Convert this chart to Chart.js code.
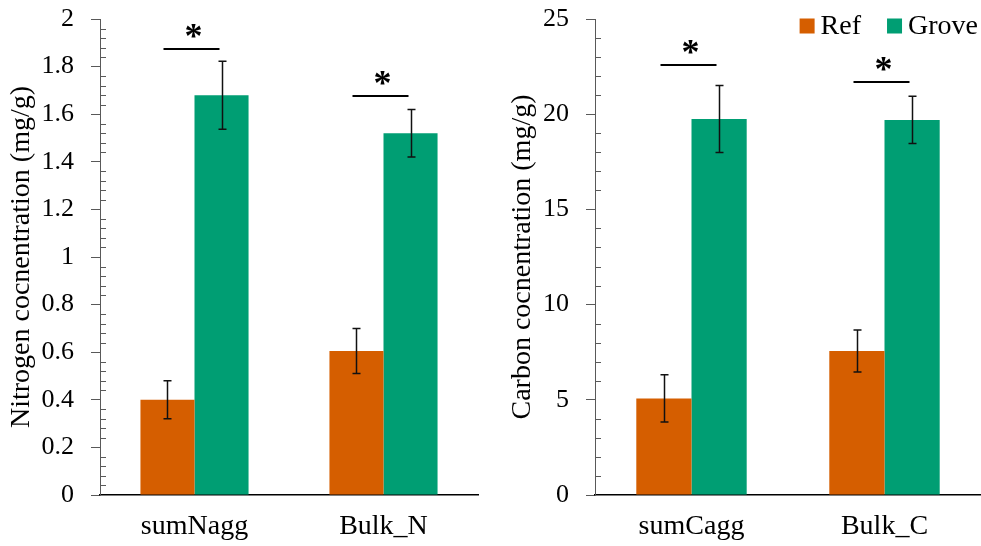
<!DOCTYPE html>
<html>
<head>
<meta charset="utf-8">
<script src="https://cdn.jsdelivr.net/npm/chart.js@4/dist/chart.umd.min.js"></script>
<style>
  html, body { margin: 0; padding: 0; background: #fff; }
  body { width: 981px; height: 546px; position: relative; overflow: hidden; }
  canvas { position: absolute; top: 0; }
  #nChart { left: 0; }
  #cChart { left: 501px; }
</style>
</head>
<body>
<canvas id="nChart" width="490" height="546"></canvas>
<canvas id="cChart" width="480" height="546"></canvas>
<script>
// Nitrogen panel
const nCategories = ['sumNagg', 'Bulk_N'];
const nRef = [0.40, 0.605];
const nRefErr = [0.08, 0.095];
const nGrove = [1.68, 1.52];
const nGroveErr = [0.143, 0.10];
const nSigLine = [1.874, 1.676];
const nTickLabels = ['0', '0.2', '0.4', '0.6', '0.8', '1', '1.2', '1.4', '1.6', '1.8', '2'];

// Carbon panel
const cCategories = ['sumCagg', 'Bulk_C'];
const cRef = [5.07, 7.56];
const cRefErr = [1.24, 1.1];
const cGrove = [19.75, 19.7];
const cGroveErr = [1.76, 1.24];
const cSigLine = [22.58, 21.69];
const cTickLabels = ['0', '5', '10', '15', '20', '25'];

const seriesNames = ['Ref', 'Grove'];
const refColor = '#D55E00';
const groveColor = '#009E73';
const axisGray = '#595959';
const serif = "'Liberation Serif', 'Times New Roman', serif";

Chart.defaults.font.family = serif;
Chart.defaults.color = '#000';

// minor ticks, error bars, significance marks and legend
const extrasPlugin = {
  id: 'extras',
  afterDatasetsDraw(chart, args, opts) {
    const ctx = chart.ctx;
    const y = chart.scales.y;
    const area = chart.chartArea;

    // minor ticks pointing into the plot
    const step = opts.step / 5;
    ctx.save();
    ctx.strokeStyle = axisGray;
    ctx.lineWidth = 1;
    for (let i = 1; i * step < y.max - 1e-9; i++) {
      if (i % 5 === 0) continue;
      const py = Math.round(y.getPixelForValue(i * step)) + 0.5;
      ctx.beginPath();
      ctx.moveTo(area.left, py);
      ctx.lineTo(area.left + 6, py);
      ctx.stroke();
    }
    ctx.restore();

    // error bars
    ctx.save();
    ctx.strokeStyle = '#111';
    ctx.lineWidth = 1.5;
    chart.data.datasets.forEach((ds, di) => {
      const meta = chart.getDatasetMeta(di);
      meta.data.forEach((bar, j) => {
        const v = ds.data[j], e = ds.err[j];
        const top = y.getPixelForValue(v + e);
        const bot = y.getPixelForValue(v - e);
        const x = Math.round(bar.x) + 0.5;
        ctx.beginPath();
        ctx.moveTo(x, top); ctx.lineTo(x, bot);
        ctx.moveTo(x - 4, top); ctx.lineTo(x + 4, top);
        ctx.moveTo(x - 4, bot); ctx.lineTo(x + 4, bot);
        ctx.stroke();
      });
    });
    ctx.restore();

    // significance lines and asterisks
    const xs = chart.scales.x;
    ctx.save();
    ctx.strokeStyle = '#000';
    ctx.fillStyle = '#000';
    ctx.lineWidth = 2;
    ctx.font = 'bold 36px ' + serif;
    ctx.textAlign = 'center';
    ctx.textBaseline = 'alphabetic';
    opts.sig.forEach((lv, j) => {
      const cx = xs.getPixelForValue(j) - 3;
      const py = y.getPixelForValue(lv);
      ctx.beginPath();
      ctx.moveTo(cx - 28, py);
      ctx.lineTo(cx + 28, py);
      ctx.stroke();
      ctx.fillText('*', cx + 2, py - 1);
    });
    ctx.restore();

    // legend (right panel only)
    if (opts.legend) {
      ctx.save();
      ctx.font = '28px ' + serif;
      ctx.textBaseline = 'middle';
      ctx.textAlign = 'left';
      const cy = area.top + 7;
      const widths = chart.data.datasets.map(ds => ctx.measureText(ds.label).width);
      let total = 0;
      widths.forEach((w, i) => { total += 15 + 6 + w + (i > 0 ? 26 : 0); });
      let x = area.right - 3 - total;
      chart.data.datasets.forEach((ds, i) => {
        if (i > 0) x += 26;
        ctx.fillStyle = ds.backgroundColor;
        ctx.fillRect(x, cy - 7.5, 15, 15);
        x += 21;
        ctx.fillStyle = '#000';
        ctx.fillText(ds.label, x, cy + 1);
        x += widths[i];
      });
      ctx.restore();
    }
  }
};

function makeChart(id, cats, ref, refErr, grove, groveErr, sig, max, step, tickLabels, title, yWidth, padRight, titlePad, legend) {
  return new Chart(document.getElementById(id), {
    type: 'bar',
    data: {
      labels: cats,
      datasets: [
        { label: seriesNames[0], data: ref, err: refErr, backgroundColor: refColor },
        { label: seriesNames[1], data: grove, err: groveErr, backgroundColor: groveColor }
      ]
    },
    options: {
      responsive: false,
      animation: false,
      devicePixelRatio: 1,
      categoryPercentage: 0.572,
      barPercentage: 1.0,
      layout: { padding: { top: 19, right: padRight, left: 0, bottom: 0 } },
      plugins: {
        legend: { display: false },
        tooltip: { enabled: false },
        extras: { step: step, sig: sig, legend: legend }
      },
      scales: {
        x: {
          grid: { display: false, drawTicks: false },
          border: { display: true, color: '#000', width: 1.5 },
          ticks: { font: { size: 28 }, padding: 15, color: '#000' },
          afterFit(scale) { scale.height = 51; scale.paddingLeft = 0; scale.paddingRight = 0; }
        },
        y: {
          min: 0,
          max: max,
          ticks: {
            stepSize: step,
            font: { size: 26 },
            padding: 17,
            color: '#000',
            callback: (v, i) => tickLabels[i]
          },
          grid: { drawOnChartArea: false, drawTicks: true, tickLength: 9, color: axisGray },
          border: { display: true, color: axisGray, width: 1 },
          title: { display: true, text: title, font: { size: 28 }, color: '#000', padding: { top: titlePad, bottom: 0 } },
          afterFit(scale) { scale.width = yWidth; scale.paddingTop = 0; scale.paddingBottom = 0; }
        }
      }
    },
    plugins: [extrasPlugin]
  });
}

makeChart('nChart', nCategories, nRef, nRefErr, nGrove, nGroveErr, nSigLine, 2, 0.2, nTickLabels,
  'Nitrogen cocnentration (mg/g)', 100, 12, 5, false);
makeChart('cChart', cCategories, cRef, cRefErr, cGrove, cGroveErr, cSigLine, 25, 5, cTickLabels,
  'Carbon cocnentration (mg/g)', 94, 0, 5, true);
</script>
</body>
</html>
